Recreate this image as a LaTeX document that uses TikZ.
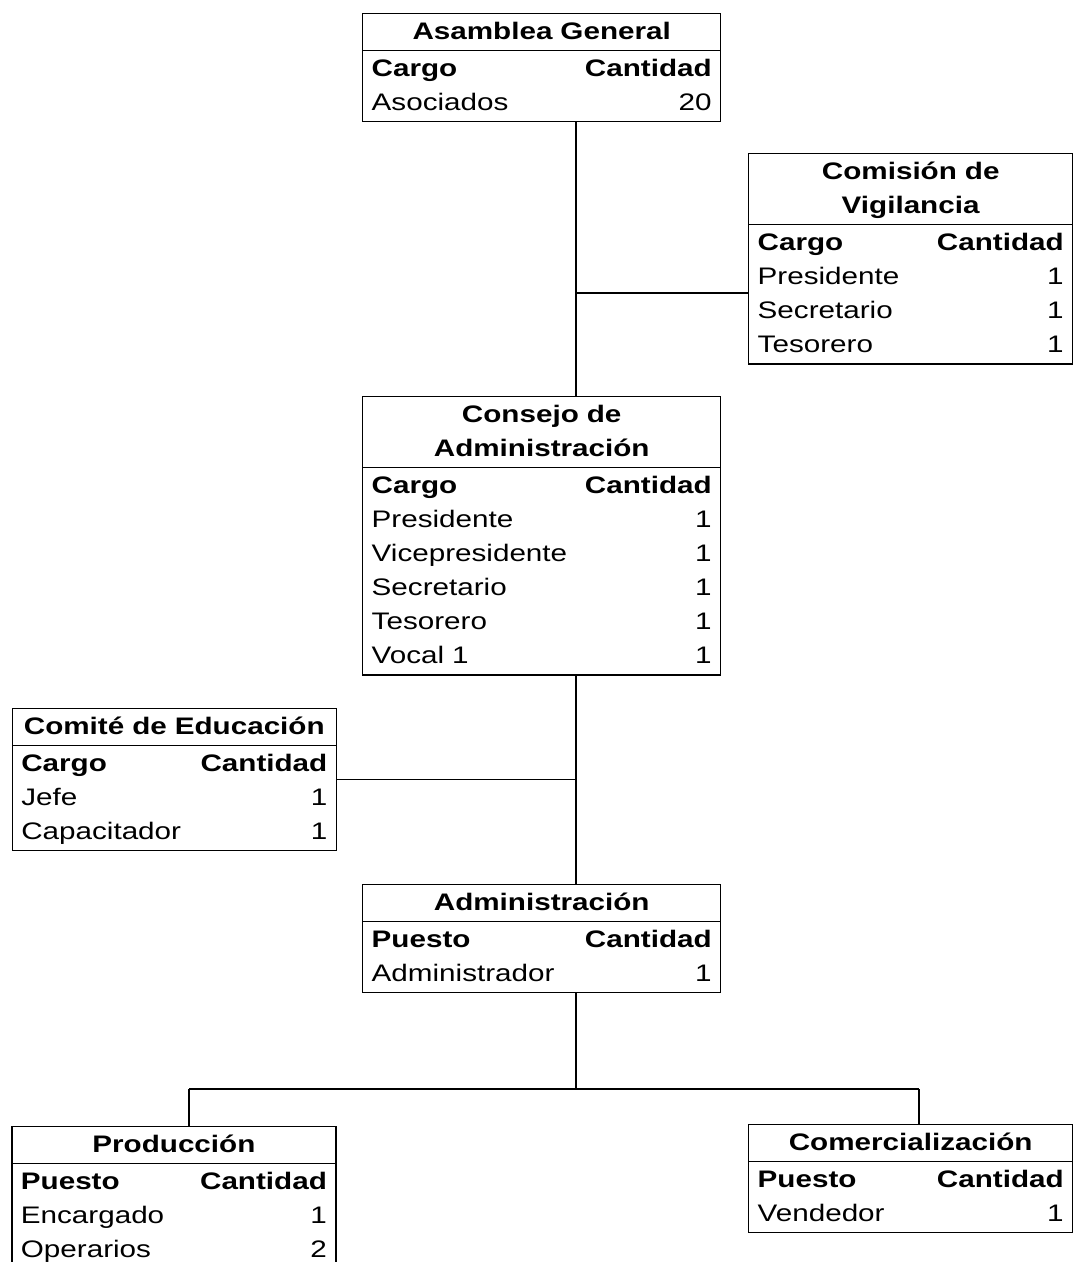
\documentclass[tikz,border=0pt]{standalone}
\usepackage{fontspec}
\setmainfont{Liberation Sans}[FakeStretch=1.24]
\usepackage{tikz}
\usetikzlibrary{shapes.multipart}

\newcommand{\boxfont}{\fontsize{17pt}{24.2pt}\selectfont}
\newcommand{\titleline}[1]{\strut\textbf{#1}}
\newcommand{\headline}[2]{\strut\textbf{#1}\hfill\textbf{#2}}
\newcommand{\tabline}[2]{\strut #1\hfill #2}

\begin{document}
\begin{tikzpicture}[line width=1pt,
    orgbox/.style={draw, rectangle split, rectangle split parts=2, text width=#1,
        inner xsep=0.225cm, inner ysep=0.02cm, align=center, anchor=north west, font=\boxfont},
    orgbox/.default=8.5cm]
    \useasboundingbox (0,0) rectangle (26.9,31.55);
    % Cuadros:
    \node[orgbox] (asamblea) at (9.05,31.225) {\titleline{Asamblea General}
        \nodepart{two}\headline{Cargo}{Cantidad}\\ \tabline{Asociados}{20}};
    \node[orgbox=7.65cm] (comision) at (18.7,27.725) {\titleline{Comisión de}\\ \titleline{Vigilancia}
        \nodepart{two}\headline{Cargo}{Cantidad}\\ \tabline{Presidente}{1}\\ \tabline{Secretario}{1}\\ \tabline{Tesorero}{1}};
    \node[orgbox] (consejo) at (9.05,21.65) {\titleline{Consejo de}\\ \titleline{Administración}
        \nodepart{two}\headline{Cargo}{Cantidad}\\ \tabline{Presidente}{1}\\ \tabline{Vicepresidente}{1}\\
        \tabline{Secretario}{1}\\ \tabline{Tesorero}{1}\\ \tabline{Vocal 1}{1}};
    \node[orgbox=7.65cm] (comite) at (0.29,13.85) {\titleline{Comité de Educación}
        \nodepart{two}\headline{Cargo}{Cantidad}\\ \tabline{Jefe}{1}\\ \tabline{Capacitador}{1}};
    \node[orgbox] (admin) at (9.05,9.45) {\titleline{Administración}
        \nodepart{two}\headline{Puesto}{Cantidad}\\ \tabline{Administrador}{1}};
    \node[orgbox=7.65cm] (produccion) at (0.28,3.4) {\titleline{Producción}
        \nodepart{two}\headline{Puesto}{Cantidad}\\ \tabline{Encargado}{1}\\ \tabline{Operarios}{2}};
    \node[orgbox=7.65cm] (comercial) at (18.7,3.45) {\titleline{Comercialización}
        \nodepart{two}\headline{Puesto}{Cantidad}\\ \tabline{Vendedor}{1}};

    % Lineas:
    \coordinate (spine) at (14.4,0);
    \coordinate (jcomision) at (14.4,24.225);
    \coordinate (fork) at (14.4,4.325);
    \coordinate (forkL) at (4.725,4.325);
    \coordinate (forkR) at (22.975,4.325);
    \draw (asamblea.south -| spine) -- (consejo.north -| spine);
    \draw (jcomision) -- (jcomision -| comision.west);
    \draw (consejo.south -| spine) -- (admin.north -| spine);
    \draw (comite.east) -- (comite.east -| spine);
    \draw (admin.south -| spine) -- (fork);
    \draw (forkL) -- (forkR);
    \draw (forkL) -- (forkL |- produccion.north);
    \draw (forkR) -- (forkR |- comercial.north);
\end{tikzpicture}
\end{document}
